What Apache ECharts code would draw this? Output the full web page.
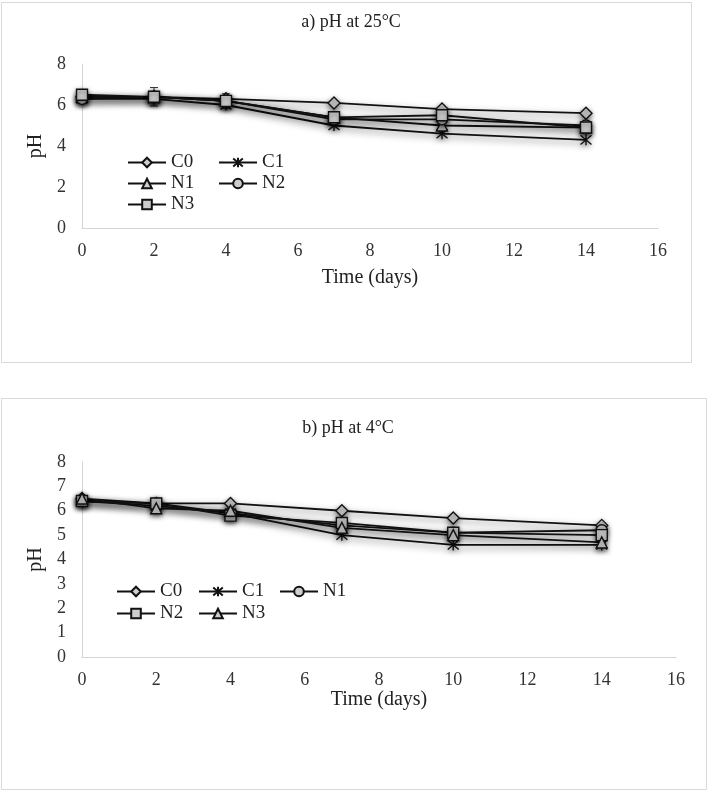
<!DOCTYPE html>
<html>
<head>
<meta charset="utf-8">
<script src="https://cdn.jsdelivr.net/npm/echarts@6/dist/echarts.min.js"></script>
<style>
html,body{margin:0;padding:0;background:#fff;}
#chart{width:709px;height:792px;}
</style>
</head>
<body>
<div id="chart"></div>
<script>
// ---- data ----
const days = [0, 2, 4, 7, 10, 14];
const xTicks = [0, 2, 4, 6, 8, 10, 12, 14, 16];

// a) pH at 25°C
const a_C0 = [6.4, 6.4, 6.3, 6.1, 5.8, 5.6];
const a_C1 = [6.3, 6.3, 6.0, 5.0, 4.6, 4.3];
const a_N1 = [6.4, 6.4, 6.2, 5.4, 5.0, 4.9];
const a_N2 = [6.3, 6.4, 6.2, 5.3, 5.3, 5.0];
const a_N3 = [6.5, 6.4, 6.2, 5.4, 5.5, 4.9];
// visible error bars (25°C)
const a_err = [0.1, 0.45, 0.35, 0.15, 0.15, 0.15];

// b) pH at 4°C
const b_C0 = [6.5, 6.3, 6.3, 6.0, 5.7, 5.4];
const b_C1 = [6.4, 6.2, 5.9, 5.0, 4.6, 4.6];
const b_N1 = [6.4, 6.3, 5.9, 5.4, 5.1, 5.2];
const b_N2 = [6.4, 6.3, 5.8, 5.5, 5.1, 5.0];
const b_N3 = [6.5, 6.1, 6.0, 5.3, 5.0, 4.7];

const titleA = 'a) pH at 25°C';
const titleB = 'b) pH at 4°C';
const xName = 'Time (days)';
const yName = 'pH';

// ---- styling ----
const FONT = 'Liberation Serif';
const ASTERISK = 'path://M0,0L10,10M10,0L0,10M5,-1L5,11';
const sym = {
  diamond: {symbol: 'diamond', size: 12},
  asterisk: {symbol: ASTERISK, size: 11},
  triangle: {symbol: 'triangle', size: 11},
  circle: {symbol: 'circle', size: 11},
  rect: {symbol: 'rect', size: 11}
};

function mk(name, vals, s, gi) {
  return {
    name: name,
    type: 'line',
    xAxisIndex: gi, yAxisIndex: gi,
    data: days.map((d, i) => [d, vals[i]]),
    symbol: sym[s].symbol,
    symbolSize: sym[s].size,
    showAllSymbol: true,
    lineStyle: {color: '#111', width: 1.8, shadowColor: 'rgba(0,0,0,0.6)', shadowBlur: 7, shadowOffsetX: 1, shadowOffsetY: 3},
    itemStyle: {color: '#cdcdcd', borderColor: '#111', borderWidth: 1.4, shadowColor: 'rgba(0,0,0,0.5)', shadowBlur: 5, shadowOffsetY: 2},
    emphasis: {disabled: true},
    animation: false,
    z: 3
  };
}

const series = [
  {
    type: 'custom', xAxisIndex: 0, yAxisIndex: 0, z: 2, silent: true,
    data: days.map((d, i) => [d, a_N1[i] - a_err[i], a_N1[i] + a_err[i]]),
    renderItem: function (params, api) {
      const lo = api.coord([api.value(0), api.value(1)]);
      const hi = api.coord([api.value(0), api.value(2)]);
      const w = 4;
      return {type: 'group', children: [
        {type: 'line', shape: {x1: hi[0], y1: hi[1], x2: lo[0], y2: lo[1]}, style: {stroke: '#333', lineWidth: 1}},
        {type: 'line', shape: {x1: hi[0] - w, y1: hi[1], x2: hi[0] + w, y2: hi[1]}, style: {stroke: '#333', lineWidth: 1}},
        {type: 'line', shape: {x1: lo[0] - w, y1: lo[1], x2: lo[0] + w, y2: lo[1]}, style: {stroke: '#333', lineWidth: 1}}
      ]};
    }
  },
  mk('a|C0', a_C0, 'diamond', 0),
  mk('a|C1', a_C1, 'asterisk', 0),
  mk('a|N1', a_N1, 'triangle', 0),
  mk('a|N2', a_N2, 'circle', 0),
  mk('a|N3', a_N3, 'rect', 0),
  mk('b|C0', b_C0, 'diamond', 1),
  mk('b|C1', b_C1, 'asterisk', 1),
  mk('b|N1', b_N1, 'circle', 1),
  mk('b|N2', b_N2, 'rect', 1),
  mk('b|N3', b_N3, 'triangle', 1)
];

function leg(name, left, top) {
  return {
    data: [name], left: left, top: top,
    itemWidth: 38, itemHeight: 12, itemGap: 0, padding: 0,
    selectedMode: false,
    formatter: n => n.split('|')[1],
    textStyle: {fontFamily: FONT, fontSize: 19, color: '#222'}
  };
}

const axisLabel = {fontFamily: FONT, fontSize: 18, color: '#333'};
const axisLine = {show: true, lineStyle: {color: '#d4d4d4', width: 1}};

const option = {
  backgroundColor: '#fff',
  animation: false,
  title: [
    {text: titleA, left: 346, top: 8, textAlign: 'center', textStyle: {fontFamily: FONT, fontSize: 18, fontWeight: 'normal', color: '#222'}},
    {text: titleB, left: 343, top: 414, textAlign: 'center', textStyle: {fontFamily: FONT, fontSize: 18, fontWeight: 'normal', color: '#222'}}
  ],
  grid: [
    {left: 82, top: 64, width: 576, height: 164},
    {left: 82, top: 462, width: 594, height: 195}
  ],
  xAxis: [0, 1].map(i => ({
    type: 'value', gridIndex: i, min: 0, max: 16, interval: 2,
    axisLine: axisLine, axisTick: {show: false}, splitLine: {show: false},
    axisLabel: Object.assign({margin: 14}, axisLabel),
    name: xName, nameLocation: 'middle', nameGap: i === 0 ? 40 : 31,
    nameTextStyle: {fontFamily: FONT, fontSize: 20, color: '#222'}
  })),
  yAxis: [
    {type: 'value', gridIndex: 0, min: 0, max: 8, interval: 2,
     axisLine: axisLine, axisTick: {show: false}, splitLine: {show: false},
     axisLabel: Object.assign({margin: 16}, axisLabel),
     name: yName, nameLocation: 'middle', nameGap: 28,
     nameTextStyle: {fontFamily: FONT, fontSize: 20, color: '#222'}},
    {type: 'value', gridIndex: 1, min: 0, max: 8, interval: 1,
     axisLine: axisLine, axisTick: {show: false}, splitLine: {show: false},
     axisLabel: Object.assign({margin: 16}, axisLabel),
     name: yName, nameLocation: 'middle', nameGap: 28,
     nameTextStyle: {fontFamily: FONT, fontSize: 20, color: '#222'}}
  ],
  legend: [
    leg('a|C0', 127, 153), leg('a|C1', 218, 153),
    leg('a|N1', 127, 174), leg('a|N2', 218, 174),
    leg('a|N3', 127, 195),
    leg('b|C0', 116, 582), leg('b|C1', 198, 582), leg('b|N1', 279, 582),
    leg('b|N2', 116, 604), leg('b|N3', 198, 604)
  ],
  graphic: [
    {type: 'rect', shape: {x: 1.5, y: 2.5, width: 690, height: 360}, style: {fill: 'none', stroke: '#d9d9d9', lineWidth: 1}, z: -10},
    {type: 'rect', shape: {x: 1.5, y: 398.5, width: 705, height: 391}, style: {fill: 'none', stroke: '#d9d9d9', lineWidth: 1}, z: -10}
  ],
  series: series
};

const chart = echarts.init(document.getElementById('chart'), null, {renderer: 'canvas'});
chart.setOption(option);
</script>
</body>
</html>
